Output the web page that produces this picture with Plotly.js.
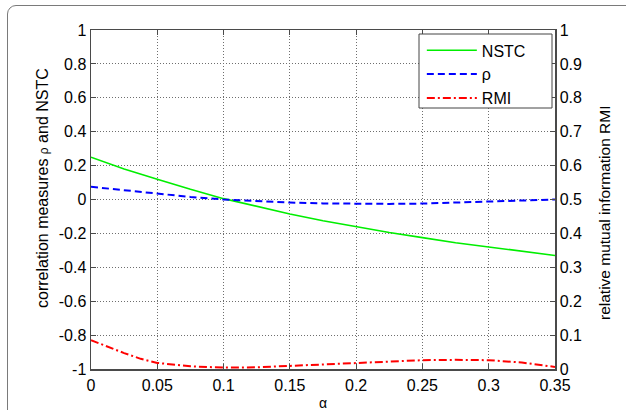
<!DOCTYPE html>
<html>
<head>
<meta charset="utf-8">
<script src="https://cdn.plot.ly/plotly-3.0.1.min.js"></script>
<style>
  html, body { margin: 0; padding: 0; width: 626px; height: 410px; overflow: hidden; background: #fff; }
  #frame { position: absolute; left: 7px; top: 5px; width: 700px; height: 500px;
           border: 1.5px solid #7a7a7a; border-radius: 9px; }
  #chart { position: absolute; left: 0; top: 0; width: 626px; height: 410px; }
</style>
</head>
<body>
<div id="frame"></div>
<div id="chart"></div>
<script>
// alpha values (x axis)
const alphaNSTC = [0, 0.025, 0.05, 0.075, 0.1, 0.125, 0.15, 0.175, 0.2, 0.225, 0.25, 0.275, 0.3, 0.325, 0.35];
const nstc      = [0.25, 0.18, 0.12, 0.06, 0.005, -0.04, -0.085, -0.125, -0.16, -0.195, -0.225, -0.255, -0.28, -0.305, -0.33];

const alphaRho  = [0, 0.025, 0.05, 0.075, 0.1, 0.125, 0.15, 0.175, 0.2, 0.225, 0.25, 0.275, 0.3, 0.325, 0.35];
const rho       = [0.075, 0.055, 0.035, 0.015, 0.0, -0.01, -0.018, -0.023, -0.025, -0.026, -0.024, -0.018, -0.01, -0.004, 0.0];

const alphaRMI  = [0, 0.0125, 0.025, 0.0375, 0.05, 0.075, 0.1, 0.125, 0.15, 0.175, 0.2, 0.225, 0.25, 0.275, 0.3, 0.325, 0.35];
const rmi       = [0.085, 0.065, 0.047, 0.03, 0.018, 0.008, 0.004, 0.005, 0.009, 0.014, 0.019, 0.023, 0.026, 0.027, 0.026, 0.019, 0.006];

const xTicks  = [0, 0.05, 0.1, 0.15, 0.2, 0.25, 0.3, 0.35];
const xLabels = ['0', '0.05', '0.1', '0.15', '0.2', '0.25', '0.3', '0.35'];
const yTicks  = [-1, -0.8, -0.6, -0.4, -0.2, 0, 0.2, 0.4, 0.6, 0.8, 1];
const yLabels = ['-1', '-0.8', '-0.6', '-0.4', '-0.2', '0', '0.2', '0.4', '0.6', '0.8', '1'];
const y2Ticks  = [0, 0.1, 0.2, 0.3, 0.4, 0.5, 0.6, 0.7, 0.8, 0.9, 1];
const y2Labels = ['0', '0.1', '0.2', '0.3', '0.4', '0.5', '0.6', '0.7', '0.8', '0.9', '1'];

const seriesNames = ['NSTC', 'ρ', 'RMI'];

const FONT = 'Liberation Sans, Arial, Helvetica, sans-serif';
const AXC = '#4a4a4a';
const GRIDC = '#6e6e6e';

const traces = [
  { x: alphaNSTC, y: nstc, name: seriesNames[0], type: 'scatter', mode: 'lines',
    line: { color: '#00ee00', width: 1.6 }, legendgroup: 'a', yaxis: 'y' },
  { x: alphaRho, y: rho, name: seriesNames[1], type: 'scatter', mode: 'lines',
    line: { color: '#0000ff', width: 2, dash: '7px,4px' }, legendgroup: 'b', yaxis: 'y' },
  { x: alphaRMI, y: rmi, name: seriesNames[2], type: 'scatter', mode: 'lines',
    line: { color: '#ff0000', width: 2, dash: '8px,3px,2px,3px' }, legendgroup: 'c', yaxis: 'y2' }
];

const layout = {
  width: 626, height: 410,
  margin: { l: 91, r: 71, t: 30, b: 41 },
  paper_bgcolor: 'rgba(0,0,0,0)',
  plot_bgcolor: '#ffffff',
  font: { family: FONT, size: 16, color: '#000' },
  showlegend: true,
  legend: {
    x: 0.713, y: 0.99, xanchor: 'left', yanchor: 'top',
    bgcolor: 'rgba(0,0,0,0)', borderwidth: 0,
    font: { family: FONT, size: 16, color: '#000' },
    itemwidth: 50, tracegroupgap: 1, traceorder: 'normal'
  },
  xaxis: {
    range: [0, 0.35], tickvals: xTicks, ticktext: xLabels,
    ticks: 'inside', ticklen: 5, tickcolor: AXC, tickwidth: 1,
    showline: true, linecolor: AXC, linewidth: 1.5, mirror: 'ticks',
    showgrid: true, gridcolor: GRIDC, griddash: '1px,2px', gridwidth: 1,
    zeroline: false, tickfont: { family: FONT, size: 16 }, ticklabelstandoff: 1
  },
  yaxis: {
    range: [-1, 1], tickvals: yTicks, ticktext: yLabels,
    ticks: 'inside', ticklen: 5, tickcolor: AXC, tickwidth: 1,
    showline: true, linecolor: AXC, linewidth: 1.5,
    showgrid: true, gridcolor: GRIDC, griddash: '1px,2px', gridwidth: 1,
    zeroline: false, tickfont: { family: FONT, size: 16 }
  },
  yaxis2: {
    range: [0, 1], tickvals: y2Ticks, ticktext: y2Labels,
    overlaying: 'y', side: 'right',
    ticks: 'inside', ticklen: 5, tickcolor: AXC, tickwidth: 1,
    showline: true, linecolor: AXC, linewidth: 1.5,
    showgrid: false, zeroline: false, tickfont: { family: FONT, size: 16 }
  },
  shapes: [
    { type: 'rect', xref: 'paper', yref: 'paper', layer: 'above',
      x0: (419 - 91) / 464, x1: (552 - 91) / 464,
      y0: (369 - 108) / 339, y1: (369 - 34) / 339,
      fillcolor: '#ffffff', line: { color: '#444', width: 1 } }
  ],
  annotations: [
    { text: 'correlation measures <span style="font-size:12px">ρ</span> and NSTC', textangle: -90,
      xref: 'paper', yref: 'paper', x: (42 - 91) / 464, y: (369 - 188) / 339,
      xanchor: 'center', yanchor: 'middle', showarrow: false,
      font: { family: FONT, size: 16, color: '#000' } },
    { text: 'relative mutual information RMI', textangle: -90,
      xref: 'paper', yref: 'paper', x: (605 - 91) / 464, y: (369 - 213) / 339,
      xanchor: 'center', yanchor: 'middle', showarrow: false,
      font: { family: FONT, size: 15.5, color: '#000' } },
    { text: 'α', xref: 'paper', yref: 'paper', x: (323 - 91) / 464, y: (369 - 403) / 339,
      xanchor: 'center', yanchor: 'middle', showarrow: false,
      font: { family: FONT, size: 14, color: '#000' } }
  ]
};

Plotly.newPlot('chart', traces, layout, { displayModeBar: false, staticPlot: true });
</script>
</body>
</html>
